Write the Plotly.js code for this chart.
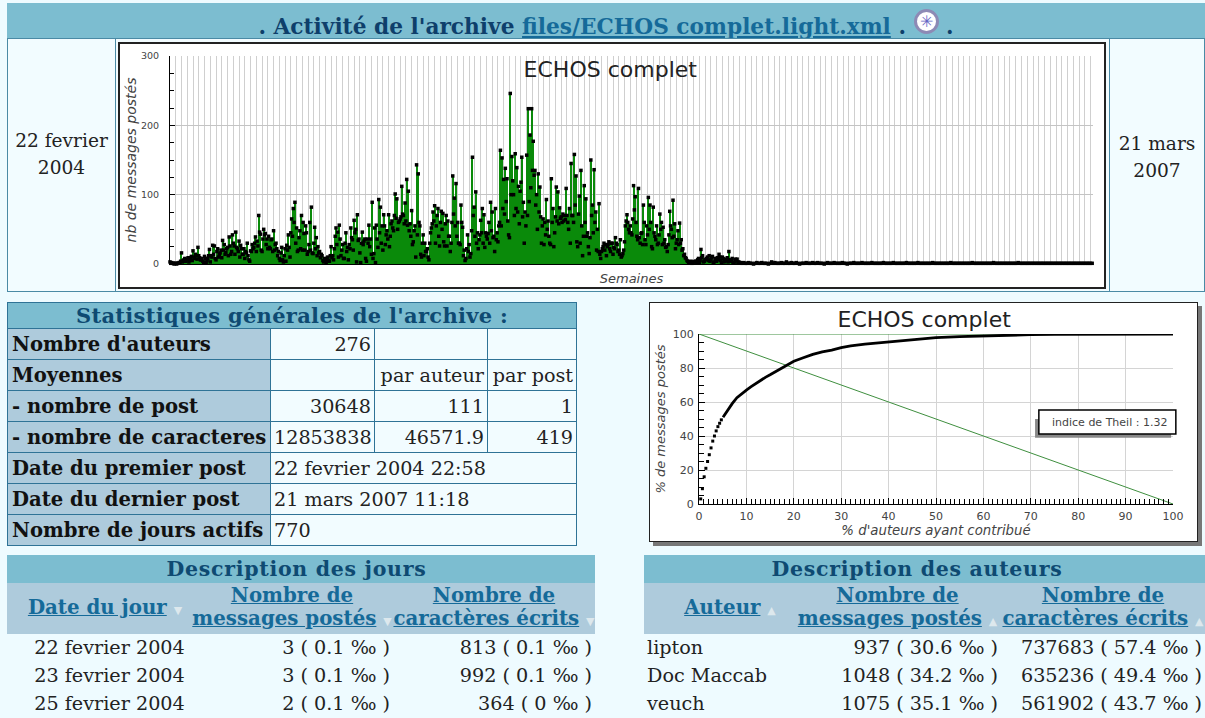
<!DOCTYPE html>
<html>
<head>
<meta charset="utf-8">
<script src="https://cdn.plot.ly/plotly-3.0.1.min.js"></script>
<style>
html, body { margin: 0; padding: 0; }
body { width: 1205px; height: 718px; overflow: hidden; position: relative; background: #eefbff; font-family: "DejaVu Serif", serif; color: #222; font-size: 19.2px; }
a { color: #156a99; text-decoration: underline; }
.abs { position: absolute; box-sizing: border-box; }
.band { left: 7px; top: 3px; width: 1198px; height: 36px; background: #7cbdd0; color: #0e3f6b; font-weight: bold; font-size: 21.7px; text-align: center; line-height: 47px; white-space: nowrap; }
.cell { top: 38px; height: 254px; border: 1px solid #4a8aa5; background: #f2fcff; text-align: center; line-height: 27px; font-size: 18.6px; display: flex; align-items: center; justify-content: center; }
.star { display: inline-block; width: 25px; height: 25px; border-radius: 50%; background: #fff; border: 3px solid #8d8ab5; box-sizing: border-box; line-height: 19px; font-size: 16px; color: #6666c4; font-weight: normal; vertical-align: 7px; }
.cadre { background: #fff; }
table { border-collapse: collapse; table-layout: fixed; position: absolute; }
td, th { box-sizing: border-box; line-height: 1; }
.stats td { border: 1px solid #2f7396; padding: 2px 3px 0 3px; height: 31px; white-space: nowrap; background: #f2fcff; }
.stats td.lib { background: #aecbdc; font-weight: bold; color: #111; padding-left: 4px; font-size: 19.6px; }
.stats td.nb { text-align: right; }
.stats th, .desc th.titre { background: #7cbdd0; color: #0e4a72; font-weight: bold; }
.stats th { border: 1px solid #2f7396; height: 26px; font-size: 21px; letter-spacing: 0.3px; }
.desc td { height: 28px; padding: 0 3px; white-space: nowrap; }
.desc th.titre { height: 28px; font-size: 20.5px; letter-spacing: 0.7px; }
.desc th.col { background: #aecbdc; height: 51px; line-height: 23px; padding: 0; font-size: 19.8px; white-space: nowrap; }
.fl { color: #dde8ed; font-size: 11px; font-weight: normal; }
.d { text-align: right; }
.desc td.c { text-align: center; padding-left: 24px; }
</style>
</head>
<body>

<div class="abs band">. Activité de l'archive <a href="#">files/ECHOS complet.light.xml</a> . <span class="star">✳</span> .</div>
<div class="abs cell" style="left:7px;width:109px;padding-bottom:22px;">22 fevrier<br>2004</div>
<div class="abs cell" style="left:1109px;width:96px;padding-bottom:17px;">21 mars<br>2007</div>
<div class="abs cell" style="left:115px;width:995px;"></div>

<div class="abs cadre" style="left:118px;top:42px;width:988px;height:247px;border:2px solid #222;"><div id="activite"></div></div>

<table class="stats" style="left:7px;top:302px;width:569px;">
<colgroup><col style="width:263px"><col style="width:104px"><col style="width:113px"><col style="width:89px"></colgroup>
<tr><th colspan="4">Statistiques générales de l'archive :</th></tr>
<tr><td class="lib">Nombre d'auteurs</td><td class="nb">276</td><td></td><td></td></tr>
<tr><td class="lib">Moyennes</td><td></td><td class="nb">par auteur</td><td class="nb">par post</td></tr>
<tr><td class="lib">- nombre de post</td><td class="nb">30648</td><td class="nb">111</td><td class="nb">1</td></tr>
<tr><td class="lib">- nombre de caracteres</td><td class="nb">12853838</td><td class="nb">46571.9</td><td class="nb">419</td></tr>
<tr><td class="lib">Date du premier post</td><td colspan="3">22 fevrier 2004 22:58</td></tr>
<tr><td class="lib">Date du dernier post</td><td colspan="3">21 mars 2007 11:18</td></tr>
<tr><td class="lib">Nombre de jours actifs</td><td colspan="3">770</td></tr>
</table>

<div class="abs" style="left:653px;top:306px;width:549px;height:240px;background:#777;"></div>
<div class="abs cadre" style="left:649px;top:302px;width:549px;height:240px;border:1px solid #222;"><div id="lorenz"></div></div>

<table class="desc" style="left:7px;top:555px;width:588px;">
<colgroup><col style="width:184px"><col style="width:202px"><col style="width:202px"></colgroup>
<tr><th class="titre" colspan="3" style="padding-right:10px;">Description des jours</th></tr>
<tr><th class="col" style="padding-left:12px;"><a href="#">Date du jour</a> <span class="fl">▼</span></th><th class="col"><a href="#">Nombre de<br>messages postés</a> <span class="fl">▼</span></th><th class="col"><a href="#">Nombre de<br>caractères écrits</a> <span class="fl">▼</span></th></tr>
<tr><td class="c">22 fevrier 2004</td><td class="d">3 ( 0.1 ‰ )</td><td class="d">813 ( 0.1 ‰ )</td></tr>
<tr><td class="c">23 fevrier 2004</td><td class="d">3 ( 0.1 ‰ )</td><td class="d">992 ( 0.1 ‰ )</td></tr>
<tr><td class="c">25 fevrier 2004</td><td class="d">2 ( 0.1 ‰ )</td><td class="d">364 ( 0 ‰ )</td></tr>
</table>

<table class="desc" style="left:644px;top:555px;width:561px;">
<colgroup><col style="width:150px"><col style="width:207px"><col style="width:204px"></colgroup>
<tr><th class="titre" colspan="3" style="padding-right:16px;">Description des auteurs</th></tr>
<tr><th class="col" style="padding-left:22px;"><a href="#">Auteur</a> <span class="fl">▲</span></th><th class="col"><a href="#">Nombre de<br>messages postés</a> <span class="fl">▲</span></th><th class="col"><a href="#">Nombre de<br>caractères écrits</a> <span class="fl">▲</span></th></tr>
<tr><td>lipton</td><td class="d">937 ( 30.6 ‰ )</td><td class="d">737683 ( 57.4 ‰ )</td></tr>
<tr><td>Doc Maccab</td><td class="d">1048 ( 34.2 ‰ )</td><td class="d">635236 ( 49.4 ‰ )</td></tr>
<tr><td>veuch</td><td class="d">1075 ( 35.1 ‰ )</td><td class="d">561902 ( 43.7 ‰ )</td></tr>
</table>

<script>
// Messages posted on even days since the first post
const messages = [
    3,2,1,1,0,1,2,16,5,8,
    6,9,5,11,19,8,12,24,9,6,
    4,11,2,8,21,12,27,26,6,22,
    14,20,34,28,17,24,39,14,42,26,
    46,22,33,27,14,22,18,30,6,19,
    28,24,39,33,70,43,18,50,44,36,
    40,22,36,48,28,22,18,5,24,3,
    22,27,42,10,65,80,89,52,20,48,
    70,60,20,45,18,60,82,15,53,38,
    25,18,14,5,8,2,10,4,25,12,
    22,52,46,56,12,28,8,45,24,28,
    52,35,63,50,71,36,2,46,33,8,
    36,56,36,89,15,2,36,93,82,55,
    71,28,48,71,40,62,48,101,94,60,
    65,112,70,88,122,105,58,77,32,55,
    143,130,55,10,42,30,18,10,30,52,
    75,84,55,80,26,76,73,26,70,62,
    40,30,127,95,116,60,30,85,53,20,
    8,42,28,15,154,82,104,45,35,63,
    80,71,45,36,60,89,75,40,80,45,
    55,164,153,122,138,123,42,246,155,100,
    159,139,112,105,154,89,75,157,224,186,
    224,177,135,100,130,111,30,65,60,93,
    62,30,123,80,45,111,104,81,68,72,
    70,109,60,80,145,70,158,127,25,98,
    135,12,113,94,45,15,150,85,136,75,
    50,87,8,22,30,28,25,32,18,30,
    24,38,28,20,35,12,20,55,71,50,
    55,42,113,97,40,109,30,45,85,35,
    55,96,85,25,82,40,55,30,72,60,
    53,35,25,28,76,50,92,58,30,48,
    59,35,22,14,8,4,3,4,2,3,
    4,6,2,21,12,4,7,10,12,6,
    11,3,8,9,14,5,10,3,7,9,
    18,4,8,2,7,7,3,2,1,2,
    1,1,2,1,1,0,1,2,1,1,
    2,1,1,1,0,1,3,1,2,1,
    1,1,2,1,1,3,1,1,2,1,
    1,2,1,0,1,1,1,2,1,1,
    1,2,1,1,2,1,1,1,0,1,
    2,1,1,1,2,1,1,1,1,2,
    1,1,0,1,1,1,2,1,1,1,
    1,2,1,1,1,1,1,2,1,1,
    1,1,1,1,2,1,1,1,1,1,
    2,1,1,1,1,1,1,1,2,1,
    1,1,1,1,1,2,1,1,1,1,
    1,1,1,1,2,1,1,1,1,1,
    1,1,1,1,1,2,1,1,1,1,
    1,1,1,1,1,1,1,1,2,1,
    1,1,1,1,1,1,1,1,1,1,
    1,2,1,1,1,1,1,1,1,1,
    1,1,1,1,1,1,2,1,1,1,
    1,1,1,1,1,1,1,1,1,1,
    1,1,1,1,1,1,1,1,1,1,
    1,1,1,1,1,1,1,1,1,1,
    1,1,1,1,1,1,1,1,1,1,
    1,1
];
// Messages posted on odd days, only while the archive was busy
const messagesImpairs = [
    1,1,0,1,1,2,4,3,6,4,
    7,3,9,5,10,14,7,12,6,8,
    2,8,5,12,3,10,14,8,18,10,
    16,9,20,14,22,12,26,18,30,14,
    24,18,10,22,14,8,16,12,4,18,
    22,30,18,26,46,20,36,42,28,22,
    24,35,18,20,30,12,8,16,6,12,
    4,20,24,45,40,60,30,18,38,22,
    20,44,55,14,28,20,16,30,22,12,
    16,9,12,3,6,8,5,12,9,6,
    40,28,10,36,20,8,30,18,6,22,
    38,20,45,3,34,16,30,28,36,4,
    30,25,14,8,52,56,24,45,30,20,
    55,42,36,25,58,52,70,66,50,62,
    68,72,58,62,56,48,40,28,48,10,
    42,60,14,30,12,18,22,6,45,58,
    62,30,70,40,60,50,32,58,26,40,
    18,60,72,55,40,30,28,60,12,5,
    22,18,10,48,70,40,30,22,42,45,
    30,24,40,44,30,48,38,18,35,32,
    60,55,80,72,90,62,38,100,120,70,
    80,75,58,118,68,30,55,70,90,110,
    135,128,85,50,75,68,55,28,42,50,
    40,28,60,25,68,62,58,66,60,62,
    64,70,50,30,70,60,85,32,72,30,
    55,40,60,40,25,38,70,45,60,20,
    18,14,18,25,20,12,28,22,30,14,
    22,30,18,14,10,15,32,62,60,45,
    45,65,78,60,35,38,44,28,60,28,
    42,50,60,22,45,35,28,42,50,28,
    30,24,18,42,55,38,40,22,35,28,
    30,20,12,9,5,2,3,1,3,4,
    2,8,5,9,3,6,8,5,4,9,
    2,7,4,6,10,2,8,4,5,3,
    6,5,2,3,5,2,2
];
const dureeJours = 1123;

// Share of authors against share of messages
const auteursDebut = [0.36,0.72,1.09,1.45,1.81,2.17,2.54,2.9,3.26,3.62,3.99,4.35,4.71];
const postsDebut = [3,9,16,21,25,29,33,37,40,43,45.5,47.5,49.5];
const auteursSuite = [5.07,6,7,8,9,10,11,12,13,14,15,16,17,18,19,20,22,24,26,28,30,32,35,40,45,50,55,60,65,70,75,80,90,100];
const postsSuite = [51,55,59,62.5,65,67,69,71,73,74.5,76,77.5,79.5,81,82.5,84,86,88,89.5,90.5,92,93,94,95.3,96.7,97.9,98.5,99,99.3,99.6,99.8,99.9,100,100];
const egaliteX = [0,100];
const egaliteY = [100,0];
const maximumX = [0,100];
const maximumY = [100,100];

const police = '"DejaVu Sans", sans-serif';
const gris = '#444';

function createActiviteChart() {
    const jours = messages.map((_, i) => i * 2).concat(messagesImpairs.map((_, i) => i * 2 + 1));
    const valeurs = messages.concat(messagesImpairs);
    const bars = {
        x: jours,
        y: valeurs,
        type: 'bar',
        width: 1.25,
        marker: { color: '#0a8a0a', line: { width: 0 } },
        hoverinfo: 'skip'
    };
    const points = {
        x: jours,
        y: valeurs,
        type: 'scatter',
        mode: 'markers',
        marker: { color: '#000', size: 3.5, symbol: 'square' },
        cliponaxis: false
    };
    const layout = {
        width: 984,
        height: 243,
        margin: { l: 49.5, r: 10.5, t: 12, b: 23 },
        paper_bgcolor: '#fff',
        plot_bgcolor: '#fff',
        showlegend: false,
        title: {
            text: 'ECHOS complet',
            font: { family: police, size: 22, color: '#222' },
            xref: 'paper', x: 0.477, xanchor: 'center',
            yref: 'container', y: 0.895, yanchor: 'middle'
        },
        xaxis: {
            range: [0, dureeJours],
            tick0: 0,
            dtick: 7,
            showticklabels: false,
            ticks: '',
            showgrid: true,
            gridcolor: '#cfcfcf',
            gridwidth: 1,
            zeroline: false,
            showline: true,
            linecolor: '#000',
            title: { text: 'Semaines', font: { family: police, size: 13, color: gris, style: 'italic' }, standoff: 9 }
        },
        yaxis: {
            range: [0, 300],
            dtick: 100,
            tickfont: { family: police, size: 9.5, color: gris },
            ticks: 'inside',
            ticklen: 5,
            tickcolor: '#000',
            ticklabelstandoff: 8,
            minor: { dtick: 25, ticks: 'inside', ticklen: 4, tickcolor: '#000', showgrid: false },
            gridcolor: '#c4c4c4',
            zeroline: false,
            showline: true,
            linecolor: '#000',
            title: { text: 'nb de messages postés', font: { family: police, size: 14, color: gris, style: 'italic' }, standoff: 1 }
        }
    };
    Plotly.newPlot('activite', [bars, points], layout, { displayModeBar: false });
}

function createLorenzChart() {
    const traces = [
        { x: maximumX, y: maximumY, mode: 'lines', line: { color: '#3f8f3f', width: 1 } },
        { x: egaliteX, y: egaliteY, mode: 'lines', line: { color: '#3f8f3f', width: 1 } },
        { x: auteursDebut, y: postsDebut, mode: 'markers', marker: { color: '#000', size: 3, symbol: 'square' } },
        { x: auteursSuite, y: postsSuite, mode: 'lines', line: { color: '#000', width: 2.8 } }
    ];
    const layout = {
        width: 547,
        height: 238,
        margin: { l: 48.7, r: 23.7, t: 30.7, b: 36.7 },
        paper_bgcolor: '#fff',
        plot_bgcolor: '#fff',
        showlegend: false,
        title: {
            text: 'ECHOS complet',
            font: { family: police, size: 22, color: '#222' },
            xref: 'paper', x: 0.475, xanchor: 'center',
            yref: 'container', y: 0.93, yanchor: 'middle'
        },
        xaxis: {
            range: [0, 100],
            dtick: 10,
            tickfont: { family: police, size: 11, color: gris },
            ticklabelstandoff: 2,
            ticks: 'inside',
            ticklen: 6,
            tickcolor: '#000',
            minor: { dtick: 1, ticks: 'inside', ticklen: 5, tickcolor: '#000', showgrid: false },
            gridcolor: '#d4d4d4',
            zeroline: false,
            showline: true,
            linecolor: '#000',
            title: { text: "% d'auteurs ayant contribué", font: { family: police, size: 13.3, color: gris, style: 'italic' }, standoff: 3 }
        },
        yaxis: {
            range: [0, 100],
            dtick: 20,
            tickfont: { family: police, size: 11, color: gris },
            ticklabelstandoff: 2,
            ticks: 'inside',
            ticklen: 6,
            tickcolor: '#000',
            minor: { dtick: 5, ticks: 'inside', ticklen: 5, tickcolor: '#000', showgrid: false },
            gridcolor: '#d4d4d4',
            zeroline: false,
            showline: true,
            linecolor: '#000',
            title: { text: '% de messages postés', font: { family: police, size: 13, color: gris, style: 'italic' }, standoff: 4 }
        },
        shapes: [
            { type: 'rect', xref: 'paper', yref: 'paper', x0: 0.709, x1: 0.996, y0: 0.389, y1: 0.5, fillcolor: '#888', line: { width: 0 } },
            { type: 'rect', xref: 'paper', yref: 'paper', x0: 0.717, x1: 1.006, y0: 0.412, y1: 0.553, fillcolor: '#fff', line: { color: '#000', width: 1.5 } }
        ],
        annotations: [
            { text: 'indice de Theil : 1.32', xref: 'paper', yref: 'paper', x: 0.865, y: 0.482, xanchor: 'center', showarrow: false, font: { family: police, size: 11, color: gris } }
        ]
    };
    Plotly.newPlot('lorenz', traces, layout, { displayModeBar: false });
}

createActiviteChart();
createLorenzChart();
</script>
</body>
</html>
